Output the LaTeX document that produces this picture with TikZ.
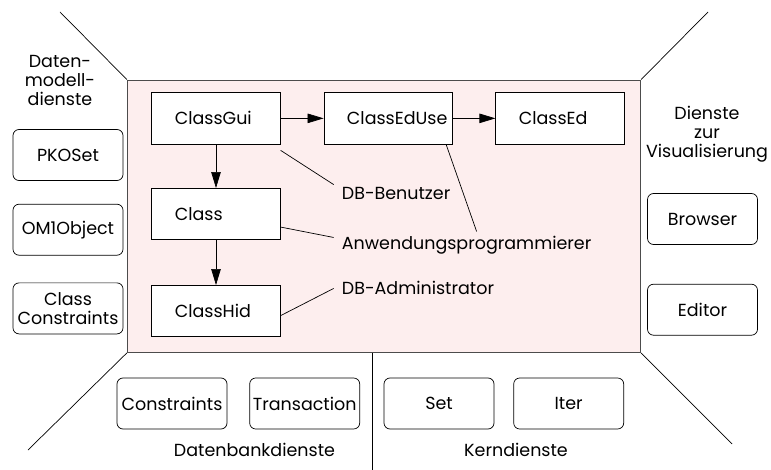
\documentclass[tikz,border=0pt]{standalone}
\usepackage{fontspec}
\setmainfont{Poppins}
\usetikzlibrary{arrows.meta,positioning}
\definecolor{corefill}{RGB}{253,238,238}
\hyphenpenalty=10000
\exhyphenpenalty=10000
\begin{document}
\begin{tikzpicture}[x=1pt,y=-1pt,
  font=\fontsize{17.5}{19}\selectfont,
  cls/.style={draw,line width=0.7pt,fill=white,text width=82.5pt,inner xsep=23pt,inner ysep=0pt,minimum height=51.3pt,align=left},
  svc/.style={draw,line width=0.7pt,rounded corners=6pt,minimum width=110pt,minimum height=51pt,inner sep=0pt,align=center},
  role/.style={inner sep=3pt,anchor=base west},
  grp/.style={align=center},
  arr/.style={-{Triangle[length=16pt,width=9.5pt]},line width=0.7pt},
  ln/.style={line width=0.7pt}]
\useasboundingbox (0,0) rectangle (771,470);
\node[draw=black!70,line width=0.8pt,fill=corefill,minimum width=513.4pt,minimum height=272.5pt,inner sep=0pt] (core) at (384,216.25) {};
\coordinate (tl) at (60,12);
\coordinate (tr) at (708,12);
\coordinate (bl) at (28,450);
\coordinate (br) at (732,444);
\coordinate (bm) at (372,470);
\draw[ln] (core.north west) -- (tl);
\draw[ln] (core.north east) -- (tr);
\draw[ln] (core.south west) -- (bl);
\draw[ln] (core.south east) -- (br);
\draw[ln] (core.south -| bm) -- (bm);
\node[cls] (gui) at (216,118.35) {ClassGui};
\node[cls,right=43pt of gui] (eduse) {ClassEdUse};
\node[cls,right=42.6pt of eduse] (ed) {ClassEd};
\node[cls,below=43.7pt of gui] (class) {Class};
\node[cls,below=45pt of class] (hid) {ClassHid};
\draw[arr] (gui) -- (eduse);
\draw[arr] (eduse) -- (ed);
\draw[arr] (gui) -- (class);
\draw[arr] (class) -- (hid);
\node[role] (user) at (338.7,200) {DB-Benutzer};
\node[role] (prog) at (338.7,250) {Anwendungsprogrammierer};
\node[role] (admin) at (338.7,295) {DB-Administrator};
\draw[ln] ([yshift=-6pt]gui.south east) -- ([xshift=-5pt]user.north west);
\draw[ln] ([xshift=-6.7pt]eduse.south east) -- ([xshift=10pt,yshift=2pt]prog.north);
\draw[ln] ([yshift=13pt]class.south east) -- ([xshift=-5pt,yshift=-4pt]prog.north west);
\draw[ln] ([yshift=-4.6pt]hid.east) -- ([xshift=-5pt]admin.west);
\node[grp] (dmd) at (60,80) {Daten-\\modell-\\dienste};
\node[svc] (pko) at (68,155) {PKOSet};
\node[svc,below=23pt of pko] (om1) {OM1Object};
\node[svc,below=27pt of om1] (clscon) {Class\\Constraints};
\node[grp] (vis) at (707,134) {Dienste\\zur\\Visualisierung};
\node[svc] (browser) at (702.5,219) {Browser};
\node[svc,below=39pt of browser] (editor) {Editor};
\node[svc] (cons) at (172,403.5) {Constraints};
\node[svc,right=22pt of cons] (trans) {Transaction};
\node[svc] (set) at (439,403.5) {Set};
\node[svc,right=19pt of set] (iter) {Iter};
\node[anchor=base] (dbd) at (254.5,456.7) {Datenbankdienste};
\node[anchor=base] (kd) at (516,456.7) {Kerndienste};
\end{tikzpicture}
\end{document}
